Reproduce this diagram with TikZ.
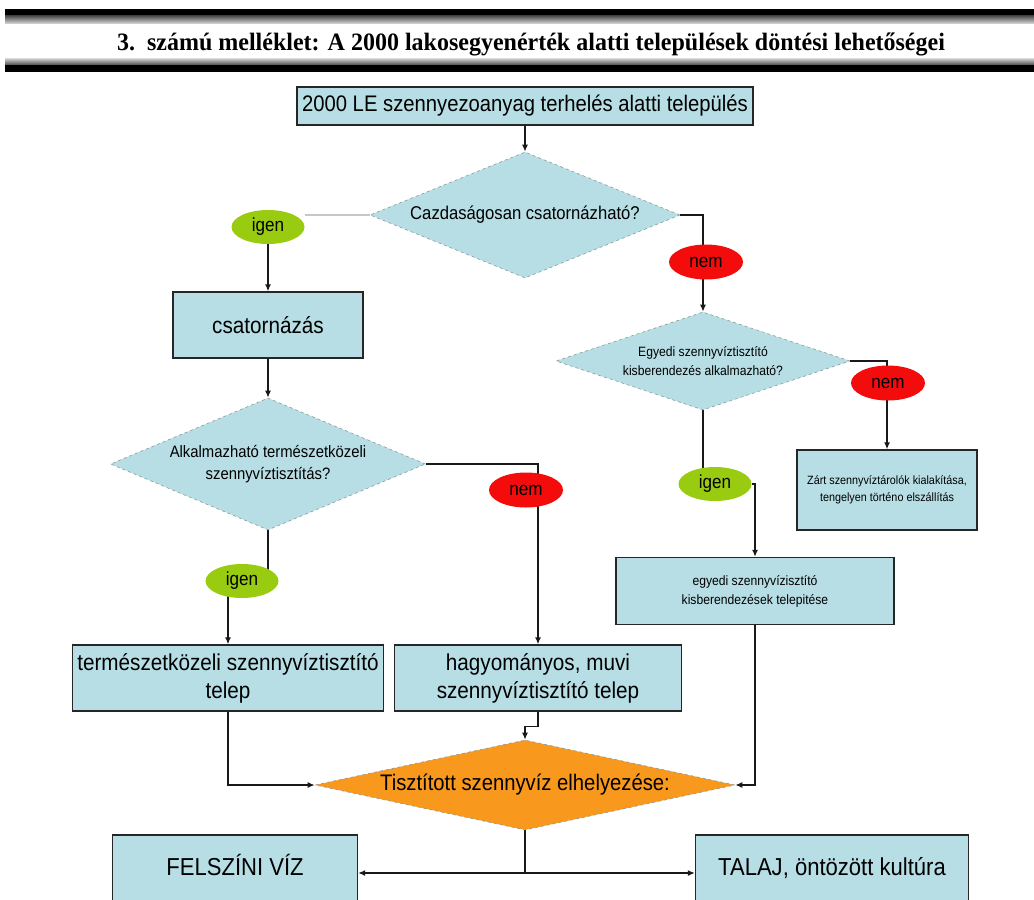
\documentclass[tikz,border=0pt]{standalone}
\usepackage{fontspec}
\setmainfont{Liberation Sans}[FakeStretch=0.9]
\newfontfamily\titlefont{Liberation Serif}[FakeStretch=0.96]
\usetikzlibrary{shapes.geometric,arrows.meta,backgrounds}
\definecolor{paleblue}{HTML}{B7DEE5}
\definecolor{dorange}{HTML}{F8981D}
\definecolor{igengreen}{HTML}{99CC11}
\definecolor{nemred}{HTML}{F40C0C}
\definecolor{dashgray}{HTML}{8A9A9C}

\tikzset{
  box/.style={draw=black!85, line width=1.3pt, fill=paleblue, align=center, inner sep=0pt},
  decision/.style={diamond, draw=dashgray, dashed, line width=0.6pt, fill=paleblue,
    inner sep=0pt, align=center},
  igen/.style={ellipse, fill=igengreen, minimum width=73pt, minimum height=34pt,
    inner sep=0pt, font=\fontsize{19}{20}\selectfont},
  nem/.style={ellipse, fill=nemred, minimum width=74pt, minimum height=35pt,
    inner sep=0pt, font=\fontsize{19}{20}\selectfont},
  flow/.style={draw=black!90, line width=1.4pt, -{Latex[length=7pt,width=6pt]}},
  plain/.style={draw=black!90, line width=1.4pt}
}

\begin{document}
\begin{tikzpicture}[x=1pt,y=-1pt]
  \useasboundingbox (0,0) rectangle (1034,900);
  \clip (0,0) rectangle (1034,900);

  % title band
  \fill[black] (5,9) rectangle (1034,15);
  \shade[top color=black!75, bottom color=black!20] (5,15) rectangle (1034,23);
  \shade[top color=black!15, bottom color=black!70] (5,58) rectangle (1034,65);
  \fill[black] (5,65) rectangle (1034,72);
  \node[font=\titlefont\bfseries\fontsize{25}{26}\selectfont] (title) at (531,44)
    {3.\ \ számú melléklet: A 2000 lakosegyenérték alatti települések döntési lehetőségei};

  % main column
  \node[box, minimum width=456pt, minimum height=38pt, font=\fontsize{22.5}{24}\selectfont]
    (start) at (525,106) {2000 LE szennyezoanyag terhelés alatti település};
  \node[decision, aspect=2.46, minimum width=310pt, minimum height=126pt,
    font=\fontsize{18.5}{20}\selectfont] (q1) at (525,215) {Cazdaságosan csatornázható?};

  % left branch
  \node[igen] (yes1) at (268,227) {igen};
  \node[box, minimum width=190pt, minimum height=66pt, font=\fontsize{23}{24}\selectfont]
    (sewer) at (268,325) {csatornázás};
  \node[decision, aspect=2.39, minimum width=315pt, minimum height=132pt,
    font=\fontsize{16.5}{22}\selectfont] (q2) at (268,464)
    {Alkalmazható természetközeli\\szennyvíztisztítás?};
  \node[igen] (yes2) at (242,581) {igen};
  \node[nem] (no2) at (526,490) {nem};
  \node[box, minimum width=311pt, minimum height=66pt, font=\fontsize{23}{28}\selectfont]
    (natural) at (228,678) {természetközeli szennyvíztisztító\\telep};
  \node[box, minimum width=287pt, minimum height=66pt, font=\fontsize{23}{28}\selectfont]
    (conv) at (538,678) {hagyományos, muvi\\szennyvíztisztító telep};

  % right branch
  \node[nem] (no1) at (706,262) {nem};
  \node[decision, aspect=3.0, minimum width=294pt, minimum height=98pt,
    font=\fontsize{13.5}{19}\selectfont] (q3) at (703,361)
    {Egyedi szennyvíztisztító\\kisberendezés alkalmazható?};
  \node[nem] (no3) at (888,383) {nem};
  \node[box, minimum width=180pt, minimum height=80pt, font=\fontsize{12}{17}\selectfont]
    (closed) at (887,490) {Zárt szennyvíztárolók kialakítása,\\tengelyen történo elszállítás};
  \node[igen] (yes3) at (715,484) {igen};
  \node[box, minimum width=278pt, minimum height=67pt, font=\fontsize{13.5}{19}\selectfont]
    (indiv) at (755,591) {egyedi szennyvízisztító\\kisberendezések telepitése};

  % disposal
  \node[decision, fill=dorange, aspect=4.67, minimum width=420pt, minimum height=90pt,
    font=\fontsize{22.5}{24}\selectfont] (dest) at (525,785) {Tisztított szennyvíz elhelyezése:};
  \node[box, minimum width=245pt, minimum height=76pt, text height=0.72em, text depth=0.2em,
    font=\fontsize{24.5}{26}\selectfont] (surf) at (235,873) {FELSZÍNI VÍZ};
  \node[box, minimum width=273pt, minimum height=76pt, text height=0.72em, text depth=0.2em,
    font=\fontsize{24.5}{26}\selectfont] (soil) at (832,873) {TALAJ, öntözött kultúra};

  % connectors
  \begin{scope}[on background layer]
    \draw[flow] (start) -- (q1);
    \draw[draw=black!22, line width=2.2pt] (q1.west) -- (q1.west -| yes1.east);
    \draw[flow] (yes1) -- (sewer);
    \draw[flow] (sewer) -- (q2);
    \draw[plain] (q2.south) -- (q2.south |- yes2.center);
    \draw[flow] (yes2.center -| natural) -- (natural.north);
    \draw[flow] (q2.east) -| (conv.north);
    \draw[flow] (q1.east) -| (q3.north);
    \draw[flow] (q3.east) -| (closed.north);
    \draw[plain] (q3.south) -- (q3.south |- yes3.center);
    \draw[flow] (yes3.east) -| (indiv.north);
    \draw[flow] (natural.south) |- (dest.west);
    \draw[flow] (indiv.south) |- (dest.east);
    \draw[flow] (conv.south) -- ++(0,15) -| (dest.north);
    \draw[flow] (dest.south) |- (surf.east);
    \draw[flow] (dest.south) |- (soil.west);
  \end{scope}
\end{tikzpicture}
\end{document}
